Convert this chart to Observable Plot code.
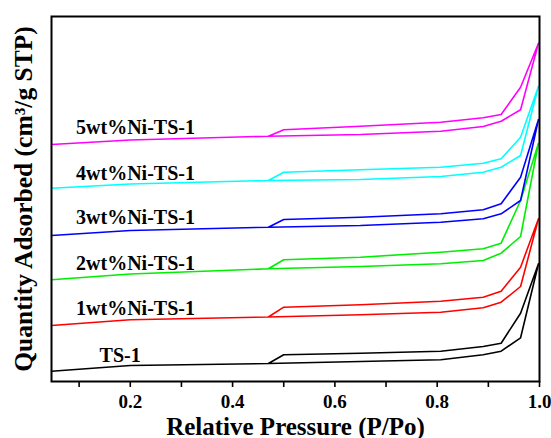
<!DOCTYPE html>
<html>
<head>
<meta charset="utf-8">
<script src="https://cdn.jsdelivr.net/npm/d3@7"></script>
<script src="https://cdn.jsdelivr.net/npm/@observablehq/plot@0.6"></script>
<style>
  html, body { margin: 0; padding: 0; background: #fff; }
  #chart svg { display: block; }
</style>
</head>
<body>
<div id="chart"></div>
<script>
// Relative pressure points (adsorption branch, then desorption branch)
const pAds = [0.046, 0.2, 0.47, 0.65, 0.807, 0.89, 0.925, 0.963, 0.998];
const pDes = [0.998, 0.963, 0.925, 0.89, 0.807, 0.65, 0.5, 0.47];

const samples = ["TS-1", "1wt%Ni-TS-1", "2wt%Ni-TS-1", "3wt%Ni-TS-1", "4wt%Ni-TS-1", "5wt%Ni-TS-1"];
const colors  = ["#000000", "#ff0000", "#00ee00", "#0000ff", "#00ffff", "#ff00ff"];

// Quantity adsorbed (offset, arbitrary units as plotted)
const adsTS1 = [10.3, 16, 18, 20, 21.7, 26.7, 30.3, 43.7, 117.7];
const desTS1 = [117.7, 68.3, 38.3, 35, 30.3, 28.3, 26.7, 18];
const ads1 = [56, 61.7, 64.5, 66.7, 69.3, 73.7, 79.3, 95, 162.7];
const des1 = [162.7, 114.3, 90.3, 84.3, 80.3, 76.7, 74.3, 64.5];
const ads2 = [101.7, 107.5, 112.7, 115, 117.7, 121, 128.3, 145, 238.3];
const des2 = [238.3, 181, 138.3, 132.7, 129.3, 124.3, 121.7, 112.7];
const ads3 = [146, 151, 154.3, 156, 159.3, 162.7, 167.7, 181, 262];
const des3 = [262, 204.3, 177.7, 171.7, 167.7, 164.3, 162, 154.3];
const ads4 = [193.3, 197.5, 201, 202, 205, 209.3, 214.3, 226, 295.3];
const des4 = [295.3, 244.3, 222.7, 218.3, 214.3, 211.7, 209.3, 201];
const ads5 = [237, 241.5, 245.3, 247, 250.3, 255, 260.3, 271.7, 338.3];
const des5 = [338.3, 294.3, 267, 263.7, 259.3, 255.3, 251.7, 245.3];

// Label positions (in data units)
const labelP = [0.14, 0.094, 0.094, 0.094, 0.094, 0.094];
const labelQ = [26, 72.7, 117.7, 164, 208, 254];

const majorTicks = [0.2, 0.4, 0.6, 0.8, 1.0];
const minorTicks = [0.1, 0.3, 0.5, 0.7, 0.9];

const adsAll = [adsTS1, ads1, ads2, ads3, ads4, ads5];
const desAll = [desTS1, des1, des2, des3, des4, des5];

const rows = [];
samples.forEach((s, i) => {
  pAds.forEach((p, j) => rows.push({sample: s, p, q: adsAll[i][j], order: j}));
  pDes.forEach((p, j) => rows.push({sample: s, p, q: desAll[i][j], order: pAds.length + j}));
});
const labels = samples.map((s, i) => ({sample: s, p: labelP[i], q: labelQ[i]}));

const font = "'Liberation Serif', 'Times New Roman', serif";

const chart = Plot.plot({
  width: 551,
  height: 438,
  marginLeft: 51,
  marginRight: 12,
  marginTop: 16,
  marginBottom: 57,
  style: {fontFamily: font, background: "#fff"},
  x: {domain: [0.046, 1.0]},
  y: {domain: [0, 365]},
  color: {domain: samples, range: colors},
  marks: [
    Plot.axisX({ticks: minorTicks, tickSize: 6, tickFormat: () => "", label: null, strokeWidth: 1.6}),
    Plot.axisX({ticks: majorTicks, tickSize: 6, tickPadding: 7, tickFormat: d => d.toFixed(1), label: null,
      strokeWidth: 1.6, fontSize: 19, fontWeight: "bold", fontFamily: font, fill: "black"}),
    Plot.axisY({ticks: [], label: null}),
    Plot.line(rows, {x: "p", y: "q", z: "sample", stroke: "sample", strokeWidth: 1.6, sort: "order"}),
    Plot.text(labels, {x: "p", y: "q", text: "sample", textAnchor: "start", lineAnchor: "middle",
      fontSize: 20, fontWeight: "bold", fontFamily: font, fill: "black"}),
    Plot.text(["Relative Pressure (P/Po)"], {frameAnchor: "bottom", textAnchor: "middle", dy: 45, lineAnchor: "middle",
      fontSize: 25, fontWeight: "bold", fontFamily: font, fill: "black"}),
    Plot.text(["Quantity Adsorbed (cm³/g STP)"], {frameAnchor: "left", textAnchor: "middle", dx: -28, rotate: -90,
      lineAnchor: "middle", fontSize: 25.5, fontWeight: "bold", fontFamily: font, fill: "black"}),
    Plot.frame({stroke: "black", strokeWidth: 2})
  ]
});
document.getElementById("chart").appendChild(chart);
</script>
</body>
</html>
